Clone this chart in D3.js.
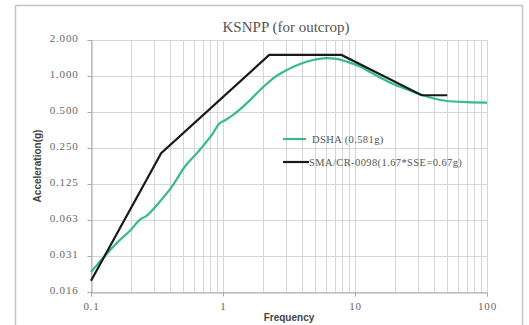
<!DOCTYPE html>
<html lang="en">
<head>
<meta charset="UTF-8">
<title>KSNPP (for outcrop)</title>
<script src="https://d3js.org/d3.v7.min.js"></script>
<style>
    body { margin: 0; background: #fff; }
    svg { display: block; }
    .tick text { font-family: "Liberation Serif", "DejaVu Serif", serif; font-size: 11px; fill: #666; letter-spacing: 0.8px; }
    .axis path, .axis line { stroke: #a8a8a8; }
    .grid line { stroke: #d6d6d6; stroke-width: 1; }
    .title { font-family: "Liberation Serif", "DejaVu Serif", serif; font-size: 15px; fill: #555; }
    .axis-title { font-family: "Liberation Sans Narrow", "Liberation Sans", Arial, sans-serif; font-size: 10px; font-weight: bold; fill: #444; }
    .legend text { font-family: "Liberation Serif", "DejaVu Serif", serif; font-size: 10.5px; fill: #555; letter-spacing: 0.4px; }
</style>
</head>
<body>
<svg width="529" height="325"></svg>
<script>
// DSHA (0.581g) spectrum
const dshaFreq = [0.1, 0.16, 0.2, 0.235, 0.26, 0.323, 0.41, 0.515, 0.65, 0.82, 0.95, 1.03, 1.2, 1.51, 1.91, 2.4, 3.04, 3.83, 4.83, 6.1, 7.26, 8.65, 10.9, 13.4, 19.5, 24.7, 31, 39, 49.5, 70, 100];
const dshaAcc  = [0.023, 0.041, 0.0515, 0.063, 0.067, 0.086, 0.119, 0.175, 0.233, 0.32, 0.405, 0.425, 0.475, 0.59, 0.764, 0.957, 1.12, 1.26, 1.36, 1.41, 1.39, 1.32, 1.2, 1.06, 0.857, 0.774, 0.703, 0.651, 0.618, 0.605, 0.6];

// SMA/CR-0098 (1.67*SSE=0.67g) spectrum
const smaFreq = [0.1, 0.34, 2.24, 7.9, 32, 50];
const smaAcc  = [0.0194, 0.226, 1.5, 1.5, 0.69, 0.69];

const xTicks = [0.1, 1, 10, 100];
const xTickLabels = ["0.1", "1", "10", "100"];
const yTicks = [0.015625, 0.03125, 0.0625, 0.125, 0.25, 0.5, 1, 2];
const yTickLabels = ["0.016", "0.031", "0.063", "0.125", "0.250", "0.500", "1.000", "2.000"];

const seriesNames = ["DSHA  (0.581g)", "SMA/CR-0098(1.67*SSE=0.67g)"];
const seriesColors = ["#38bb8c", "#1a1a1a"];

const svg = d3.select("svg");
const plotLeft = 91, plotRight = 487, plotTop = 40, plotBottom = 292;

const x = d3.scaleLog().domain([0.1, 100]).range([plotLeft, plotRight]);
const y = d3.scaleLog().base(2).domain([0.015625, 2]).range([plotBottom, plotTop]);

// outer chart border
svg.append("rect").attr("x", 15.5).attr("y", 5.5).attr("width", 507).attr("height", 340)
    .attr("fill", "none").attr("stroke", "#c4c4c4").attr("stroke-width", 1.5);

// minor + major vertical gridlines
const vGrid = [];
for (let d = 0.1; d < 100; d *= 10) {
    for (let k = 1; k < 10; k++) vGrid.push(d * k);
}
vGrid.push(100);
svg.append("g").attr("class", "grid").selectAll("line").data(vGrid).enter()
    .append("line")
    .attr("x1", d => Math.round(x(d)) + 0.5).attr("x2", d => Math.round(x(d)) + 0.5)
    .attr("y1", plotTop).attr("y2", plotBottom);

svg.append("g").attr("class", "grid").selectAll("line").data(yTicks).enter()
    .append("line")
    .attr("x1", plotLeft).attr("x2", plotRight)
    .attr("y1", d => Math.round(y(d)) + 0.5).attr("y2", d => Math.round(y(d)) + 0.5);

// axes
svg.append("g").attr("class", "axis")
    .attr("transform", `translate(0,${plotBottom + 0.5})`)
    .call(d3.axisBottom(x).tickValues(xTicks).tickFormat((d, i) => xTickLabels[i]).tickSizeOuter(0).tickSize(4).tickPadding(5))
    .call(g => g.selectAll(".tick text").attr("dy", "0.75em"));

svg.append("g").attr("class", "axis")
    .attr("transform", `translate(${plotLeft + 0.5},0)`)
    .call(d3.axisLeft(y).tickValues(yTicks).tickFormat((d, i) => yTickLabels[i]).tickSizeOuter(0).tickSize(4).tickPadding(9))
    .call(g => g.selectAll(".tick text").attr("dy", "0.1em"));

// lines
const line = d3.line().x(d => x(d[0])).y(d => y(d[1])).curve(d3.curveMonotoneX);
const lineStraight = d3.line().x(d => x(d[0])).y(d => y(d[1]));

svg.append("path")
    .datum(dshaFreq.map((f, i) => [f, dshaAcc[i]]))
    .attr("fill", "none").attr("stroke", seriesColors[0]).attr("stroke-width", 2.2)
    .attr("d", line);

svg.append("path")
    .datum(smaFreq.map((f, i) => [f, smaAcc[i]]))
    .attr("fill", "none").attr("stroke", seriesColors[1]).attr("stroke-width", 2.2)
    .attr("d", lineStraight);

// title
svg.append("text").attr("class", "title")
    .attr("x", 286).attr("y", 32).attr("text-anchor", "middle")
    .text("KSNPP (for outcrop)");

// axis titles
svg.append("text").attr("class", "axis-title")
    .attr("x", 289).attr("y", 321).attr("text-anchor", "middle")
    .text("Frequency");

svg.append("text").attr("class", "axis-title")
    .attr("transform", "translate(41,166) rotate(-90)")
    .attr("text-anchor", "middle")
    .text("Acceleration(g)");

// legend
const legend = svg.append("g").attr("class", "legend");
const legendRows = [{ y: 139, x1: 283, x2: 306, tx: 312 }, { y: 162, x1: 283, x2: 309, tx: 309 }];
legendRows.forEach((r, i) => {
    legend.append("line").attr("x1", r.x1).attr("x2", r.x2).attr("y1", r.y).attr("y2", r.y)
        .attr("stroke", seriesColors[i]).attr("stroke-width", 2.2);
    legend.append("text").attr("x", r.tx).attr("y", r.y + 3.5).text(seriesNames[i]);
});
</script>
</body>
</html>
